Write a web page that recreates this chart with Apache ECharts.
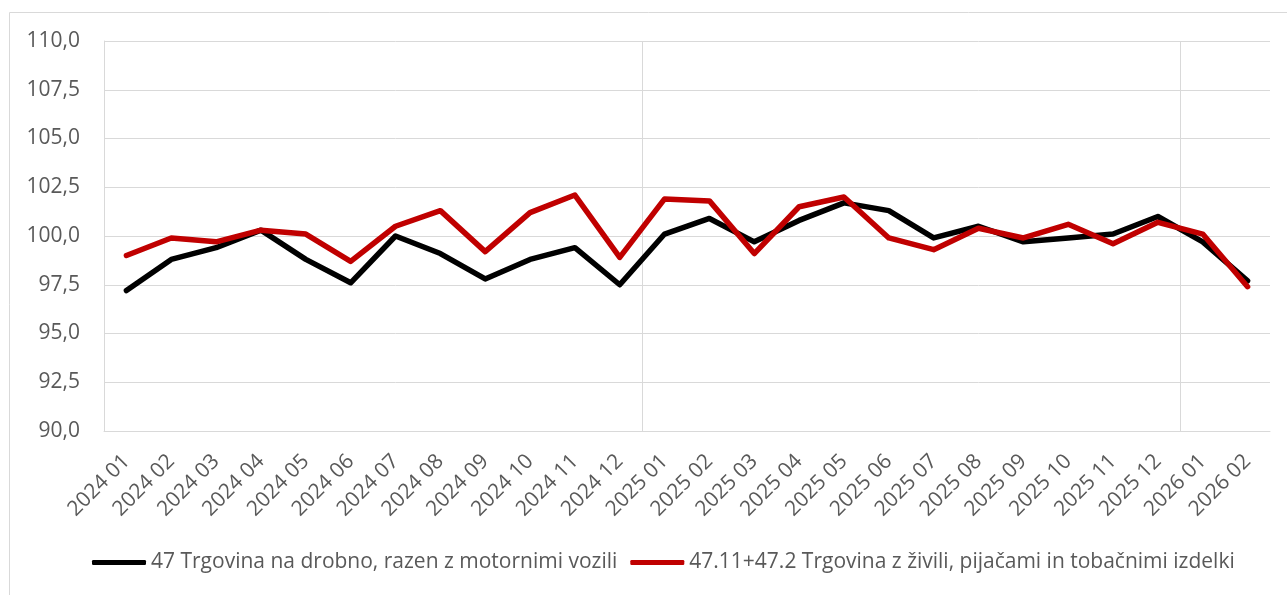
<!DOCTYPE html>
<html>
<head>
<meta charset="utf-8">
<script src="https://cdn.jsdelivr.net/npm/echarts@6/dist/echarts.min.js"></script>
<style>
  html, body { margin: 0; padding: 0; background: #fff; }
  #chart { width: 1287px; height: 595px; }
</style>
</head>
<body>
<div id="chart"></div>
<script>
// mesečni indeksi
const months = [
    '2024 01', '2024 02', '2024 03', '2024 04', '2024 05', '2024 06',
    '2024 07', '2024 08', '2024 09', '2024 10', '2024 11', '2024 12',
    '2025 01', '2025 02', '2025 03', '2025 04', '2025 05', '2025 06',
    '2025 07', '2025 08', '2025 09', '2025 10', '2025 11', '2025 12',
    '2026 01', '2026 02'
];

const retailTotal = [
    97.2, 98.8, 99.4, 100.3, 98.8, 97.6, 100.0, 99.1, 97.8, 98.8, 99.4, 97.5,
    100.1, 100.9, 99.7, 100.8, 101.7, 101.3, 99.9, 100.5, 99.7, 99.9, 100.1, 101.0,
    99.7, 97.7
];

const retailFood = [
    99.0, 99.9, 99.7, 100.3, 100.1, 98.7, 100.5, 101.3, 99.2, 101.2, 102.1, 98.9,
    101.9, 101.8, 99.1, 101.5, 102.0, 99.9, 99.3, 100.4, 99.9, 100.6, 99.6, 100.7,
    100.1, 97.4
];

const seriesNames = [
    '47 Trgovina na drobno, razen z motornimi vozili',
    '47.11+47.2 Trgovina z živili, pijačami in tobačnimi izdelki'
];

const textColor = '#595959';
const gridColor = '#d9d9d9';
const fontFamily = '"Open Sans", sans-serif';

const chart = echarts.init(document.getElementById('chart'));

chart.setOption({
    animation: false,
    textStyle: { fontFamily: fontFamily },
    graphic: [
        {
            // okvir grafa
            type: 'rect',
            silent: true,
            shape: { x: 9.5, y: 12.5, width: 1300, height: 620 },
            style: { fill: 'none', stroke: gridColor, lineWidth: 1 }
        }
    ],
    grid: {
        left: 104,
        top: 41,
        right: 17,
        bottom: 164
    },
    legend: {
        left: 87,
        bottom: 17,
        itemWidth: 54,
        itemHeight: 5,
        itemGap: 13,
        icon: 'roundRect',
        textStyle: { color: textColor, fontSize: 21, fontFamily: fontFamily },
        data: seriesNames
    },
    xAxis: {
        type: 'category',
        data: months,
        boundaryGap: true,
        axisLine: { show: true, lineStyle: { color: gridColor, width: 1 } },
        axisTick: { show: false },
        axisLabel: {
            rotate: 45,
            interval: 0,
            margin: 27,
            color: textColor,
            fontSize: 21,
            fontFamily: fontFamily
        },
        splitLine: {
            show: true,
            showMaxLine: false,
            interval: function (index) {
                return index % 12 === 0;
            },
            lineStyle: { color: gridColor, width: 1 }
        }
    },
    yAxis: {
        type: 'value',
        min: 90,
        max: 110,
        interval: 2.5,
        axisLine: { show: true, lineStyle: { color: gridColor, width: 1 } },
        axisTick: { show: false },
        axisLabel: {
            margin: 24,
            color: textColor,
            fontSize: 21,
            fontFamily: fontFamily,
            formatter: function (v) {
                return v.toFixed(1).replace('.', ',');
            }
        },
        splitLine: { lineStyle: { color: gridColor, width: 1 } }
    },
    series: [
        {
            name: seriesNames[0],
            type: 'line',
            data: retailTotal,
            symbol: 'none',
            color: '#000000',
            lineStyle: { width: 5.5, color: '#000000', cap: 'round', join: 'round' }
        },
        {
            name: seriesNames[1],
            type: 'line',
            data: retailFood,
            symbol: 'none',
            color: '#c00000',
            lineStyle: { width: 5.5, color: '#c00000', cap: 'round', join: 'round' }
        }
    ]
});
</script>
</body>
</html>
